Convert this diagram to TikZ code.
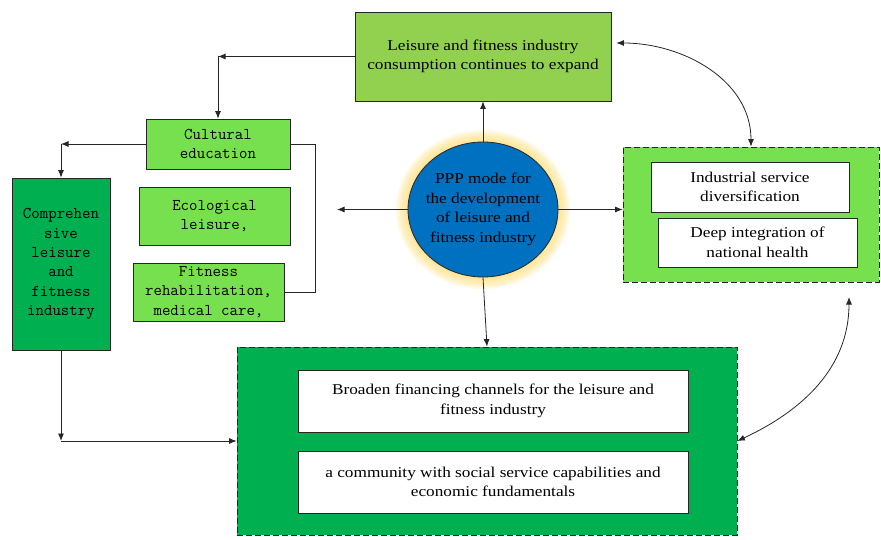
\documentclass[tikz,border=0pt]{standalone}
\usepackage{fontspec}
\setmainfont[FakeStretch=1.15]{Liberation Serif}
\usetikzlibrary{shapes,arrows.meta}
\definecolor{leafgreen}{HTML}{92D050}
\definecolor{limegreen}{HTML}{76E04E}
\definecolor{deepgreen}{HTML}{00B050}
\definecolor{pppblue}{HTML}{0070C0}
\definecolor{glow}{HTML}{FFD966}

\begin{document}
\begin{tikzpicture}[x=1pt,y=-1pt,
  >={Latex[length=7.5pt,width=6pt]},
  box/.style={rectangle,draw=black!85,line width=.8pt,align=center,inner sep=2pt},
  serif/.style={font=\fontsize{15}{19.5}\selectfont},
  mono/.style={font=\ttfamily\fontsize{16.4}{19.3}\selectfont},
  lime/.style={box,mono,fill=limegreen},
  forest/.style={box,mono,fill=deepgreen},
  leaf/.style={box,serif,fill=leafgreen},
  blank/.style={box,serif,fill=white},
  group/.style={rectangle,draw=black!85,line width=.8pt,dash pattern=on 6pt off 3pt},
  link/.style={draw=black!85,line width=.8pt}]
    \useasboundingbox (0,0) rectangle (881,540);
    % Top box
    \node[leaf,minimum width=256pt,minimum height=89pt] (expand) at (483,56.5)
      {Leisure and fitness industry\\consumption continues to expand};
    % Centre: PPP mode with its glow
    \foreach \g in {12,10,8,6,4,2}
      \fill[glow,opacity=.16] (483,209.5) ellipse [x radius=75+\g, y radius=67.5+\g];
    \node[ellipse,draw=black!85,line width=.8pt,fill=pppblue,inner sep=0pt,
      minimum width=150pt,minimum height=135pt] (ppp) at (483,209.5) {};
    \node[serif,align=center] (ppptext) at (ppp.center)
      {PPP mode for\\the development\\of leisure and\\fitness industry};
    % Right group
    \node[group,fill=limegreen,minimum width=256pt,minimum height=135pt] (health) at (751,214.5) {};
    \node[blank,minimum width=198pt,minimum height=50pt] (diverse) at (750,187)
      {Industrial service\\diversification};
    \node[blank,minimum width=199pt,minimum height=49pt] (integrate) at (757.5,242.5)
      {Deep integration of\\national health};
    % Bottom group
    \node[group,fill=deepgreen,minimum width=500pt,minimum height=188pt] (finance) at (487,441) {};
    \node[blank,minimum width=390pt,minimum height=62pt] (channel) at (493,401)
      {Broaden financing channels for the leisure and\\fitness industry};
    \node[blank,minimum width=390pt,minimum height=62pt] (community) at (493,482)
      {a community with social service capabilities and\\economic fundamentals};
    % Left side
    \node[forest,minimum width=98pt,minimum height=172pt] (comp) at (61,264)
      {Comprehen\\sive\\leisure\\and\\fitness\\industry};
    \node[lime,minimum width=144pt,minimum height=50pt] (culture) at (218,144)
      {Cultural\\education};
    \node[lime,minimum width=151pt,minimum height=58pt] (ecology) at (214.5,216)
      {Ecological\\leisure,};
    \node[lime,minimum width=151pt,minimum height=58pt] (rehab) at (208.5,292)
      {Fitness\\rehabilitation,\\medical care,};
    % Connectors
    \coordinate (topturn) at (218,56.5);
    \coordinate (leftturn) at (61,144);
    \coordinate (lowturn) at (61,441);
    \coordinate (sidebar) at (315,144);
    \coordinate (leftend) at (337,209.5);
    \coordinate (rgap) at (849,297);
    \draw[link,->] (expand.west) -- (topturn);
    \draw[link,->] (topturn) -- (culture.north);
    \draw[link,->] (culture.west) -- (leftturn);
    \draw[link,->] (leftturn) -- (comp.north);
    \draw[link] (culture.east) -- (sidebar) |- (rehab.east);
    \draw[link,->] (comp.south) -- (lowturn);
    \draw[link,->] (lowturn) -- (finance.west);
    \draw[link,->] (ppp.north) -- (expand.south);
    \draw[link,->] (ppp.west) -- (leftend);
    \draw[link,->] (ppp.east) -- (ppp.east -| health.west);
    \draw[link,->] (ppp.south) -- (finance.north);
    \draw[link,<->] ([xshift=5pt,yshift=13.5pt]expand.east) to[out=0,in=90] (health.north);
    \draw[link,<->] (rgap) to[out=-90,in=25] (finance.east);
\end{tikzpicture}
\end{document}
